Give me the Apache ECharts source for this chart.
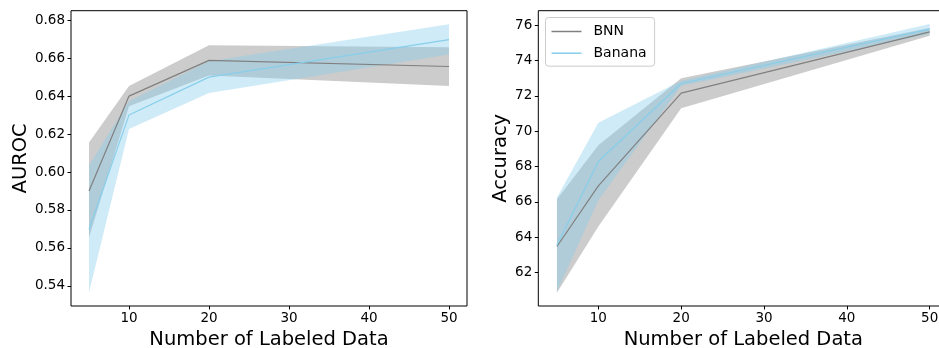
<!DOCTYPE html>
<html>
<head>
<meta charset="utf-8">
<script src="https://cdn.jsdelivr.net/npm/echarts@6/dist/echarts.min.js"></script>
<style>
  html, body { margin: 0; padding: 0; background: #fff; }
  #chart { width: 939px; height: 348px; }
</style>
</head>
<body>
<div id="chart"></div>
<script>
// number of labeled examples
const labeledCounts = [5, 10, 20, 50];
const xTicks = [10, 20, 30, 40, 50];

// AUROC (left panel)
const aurocBnnMean = [0.590, 0.640, 0.6588, 0.6556];
const aurocBnnLow = [0.5653, 0.6347, 0.6508, 0.6453];
const aurocBnnHigh = [0.6156, 0.6453, 0.6668, 0.6658];
const aurocBananaMean = [0.5698, 0.630, 0.650, 0.6698];
const aurocBananaLow = [0.5365, 0.6226, 0.6417, 0.6619];
const aurocBananaHigh = [0.6035, 0.6374, 0.6583, 0.6779];
const aurocTicks = [0.54, 0.56, 0.58, 0.60, 0.62, 0.64, 0.66, 0.68];

// Accuracy (right panel)
const accBnnMean = [63.47, 66.9, 72.15, 75.62];
const accBnnLow = [60.85, 64.6, 71.3, 75.4];
const accBnnHigh = [66.15, 69.2, 73.0, 75.84];
const accBananaMean = [63.55, 68.28, 72.7, 75.78];
const accBananaLow = [60.9, 66.09, 72.55, 75.5];
const accBananaHigh = [66.25, 70.47, 72.85, 76.06];
const accTicks = [62, 64, 66, 68, 70, 72, 74, 76];

const FONT = "DejaVu Sans";
const GRAY = "#808080";
const SKY = "#87ceeb";

const pts = (ys) => labeledCounts.map((x, i) => [x, ys[i]]);

// shaded band between low and high, drawn as one polygon through the axis scales
function band(name, lo, hi, color, idx) {
  return {
    name, type: "custom", xAxisIndex: idx, yAxisIndex: idx, silent: true, z: 1,
    data: labeledCounts.map((x, i) => [x, lo[i], hi[i]]),
    encode: { x: 0, y: [1, 2] },
    renderItem: (params, api) => {
      if (params.dataIndex !== 0) return null;
      const upper = labeledCounts.map((x, i) => api.coord([x, hi[i]]));
      const lower = labeledCounts.map((x, i) => api.coord([x, lo[i]])).reverse();
      return {
        type: "polygon",
        shape: { points: upper.concat(lower) },
        style: { fill: color },
        clipPath: {
          type: "rect",
          shape: { x: params.coordSys.x, y: params.coordSys.y, width: params.coordSys.width, height: params.coordSys.height },
        },
      };
    },
  };
}

function meanLine(name, ys, color, idx, width) {
  return {
    name, type: "line", xAxisIndex: idx, yAxisIndex: idx,
    symbol: "none", data: pts(ys), z: 3,
    lineStyle: { color, width }, itemStyle: { color },
  };
}

function xAxisOf(idx) {
  return {
    type: "value", gridIndex: idx, min: 2.75, max: 52.25,
    name: "Number of Labeled Data", nameLocation: "middle", nameGap: 19,
    nameTextStyle: { fontFamily: FONT, fontSize: 19.5, color: "#000" },
    axisLine: { show: false },
    axisTick: { show: true, length: 3.5, customValues: xTicks, lineStyle: { color: "#000" } },
    axisLabel: { customValues: xTicks, margin: 5, fontFamily: FONT, fontSize: 13.5, color: "#000" },
    splitLine: { show: false },
  };
}

function yAxisOf(idx, name, min, max, ticks, fmt, gap) {
  return {
    type: "value", gridIndex: idx, min, max,
    name, nameLocation: "middle", nameGap: gap, nameRotate: 90,
    nameTextStyle: { fontFamily: FONT, fontSize: 19.5, color: "#000" },
    axisLine: { show: false },
    axisTick: { show: true, length: 3.5, customValues: ticks, lineStyle: { color: "#000" } },
    axisLabel: { customValues: ticks, margin: 6, fontFamily: FONT, fontSize: 13.5, color: "#000", formatter: fmt },
    splitLine: { show: false },
  };
}

const chart = echarts.init(document.getElementById("chart"), null, { renderer: "canvas" });

chart.setOption({
  animation: false,
  backgroundColor: "#fff",
  grid: [
    { left: 71, top: 10.7, width: 396, height: 295.3, outerBoundsMode: "none", show: true, borderColor: "#000", borderWidth: 1 },
    { left: 538.3, top: 10.7, width: 410, height: 295.3, outerBoundsMode: "none", show: true, borderColor: "#000", borderWidth: 1 },
  ],
  xAxis: [xAxisOf(0), xAxisOf(1)],
  yAxis: [
    yAxisOf(0, "AUROC", 0.5294, 0.685, aurocTicks, (v) => v.toFixed(2), 36),
    yAxisOf(1, "Accuracy", 60.1, 76.82, accTicks, (v) => String(Math.round(v)), 25),
  ],
  legend: {
    data: ["BNN", "Banana"],
    icon: "rect",
    orient: "vertical",
    left: 545.5, top: 17.5,
    padding: [7, 8, 6, 6],
    itemWidth: 30, itemHeight: 1.5, itemGap: 7.7,
    borderColor: "#cccccc", borderWidth: 1, borderRadius: 3,
    backgroundColor: "rgba(255,255,255,0.8)",
    textStyle: { fontFamily: FONT, fontSize: 14, color: "#000", padding: [0, 0, 0, 7] },
  },
  series: [
    band("aBnn", aurocBnnLow, aurocBnnHigh, "rgba(128,128,128,0.4)", 0),
    band("aBanana", aurocBananaLow, aurocBananaHigh, "rgba(135,206,235,0.4)", 0),
    meanLine("BNN", aurocBnnMean, GRAY, 0, 1.2),
    meanLine("Banana", aurocBananaMean, SKY, 0, 1.2),
    band("cBnn", accBnnLow, accBnnHigh, "rgba(128,128,128,0.4)", 1),
    band("cBanana", accBananaLow, accBananaHigh, "rgba(135,206,235,0.4)", 1),
    meanLine("BNN", accBnnMean, GRAY, 1, 1.2),
    meanLine("Banana", accBananaMean, SKY, 1, 1.2),
  ],
});
</script>
</body>
</html>
